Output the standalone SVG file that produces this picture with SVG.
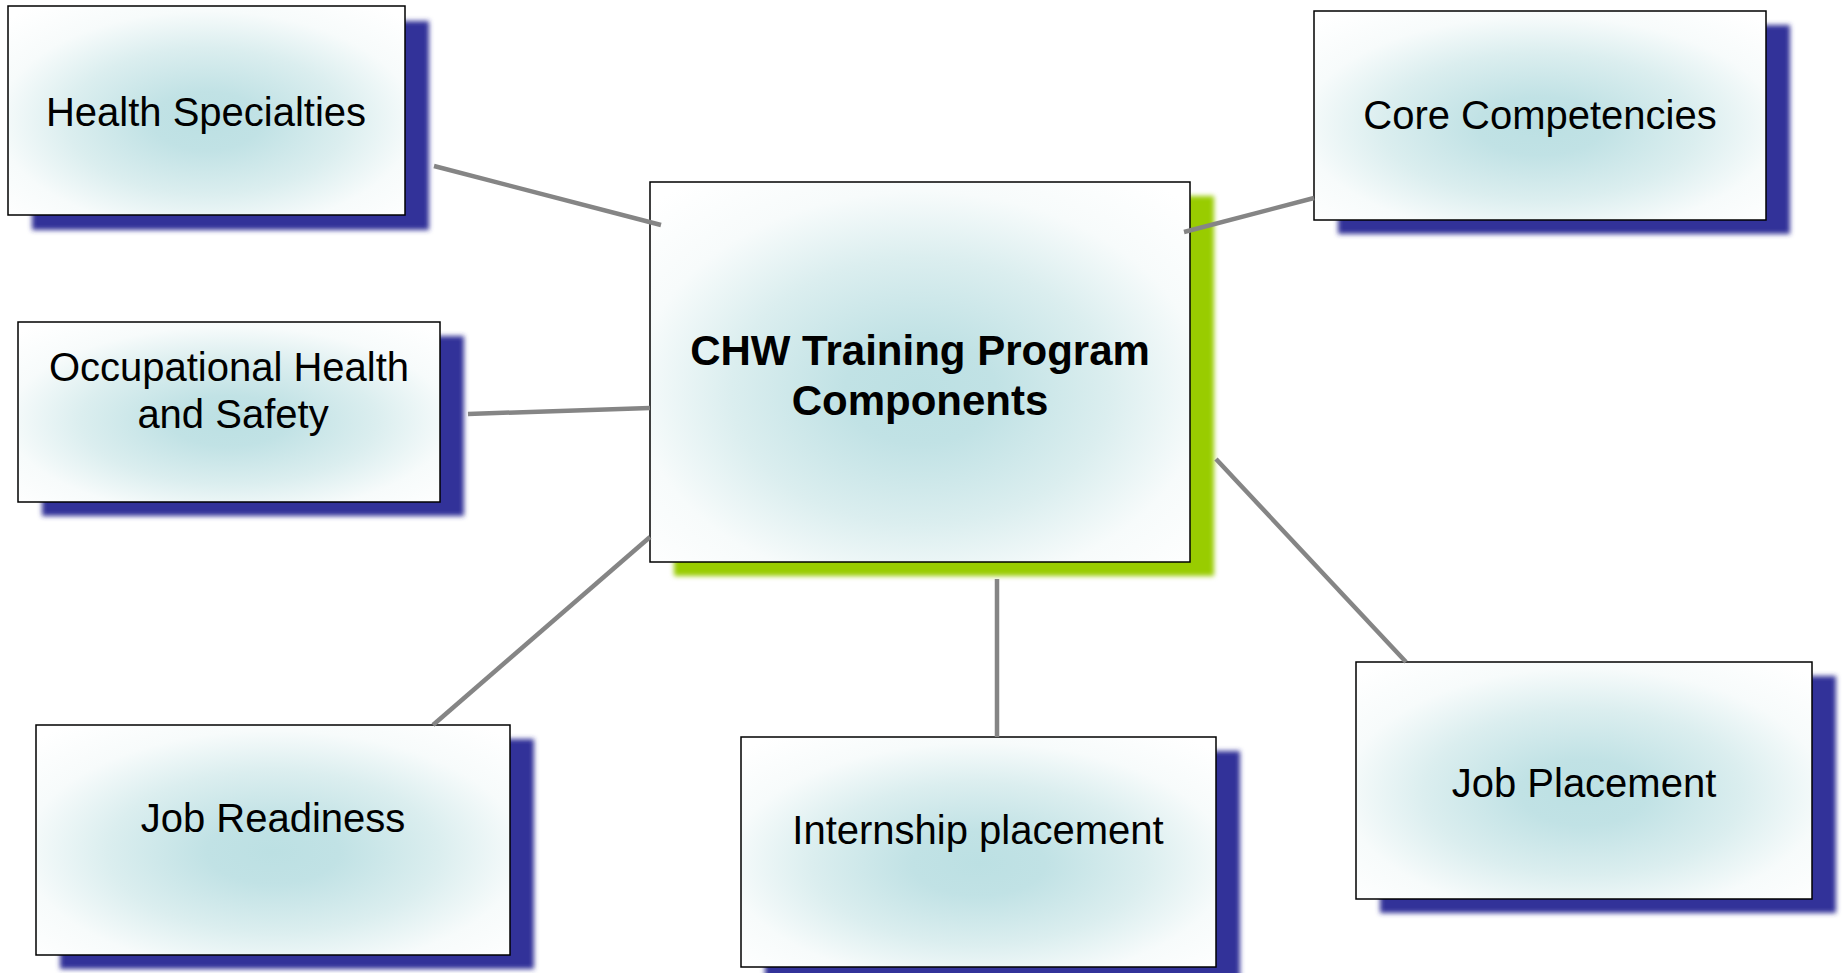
<svg xmlns="http://www.w3.org/2000/svg" width="1845" height="973" viewBox="0 0 1845 973">
<defs>
<radialGradient id="glow" cx="0.5" cy="0.55" r="0.7" fx="0.5" fy="0.55">
<stop offset="0" stop-color="#bce0e3"/>
<stop offset="0.2" stop-color="#c1e2e5"/>
<stop offset="0.5" stop-color="#dbeeef"/>
<stop offset="0.75" stop-color="#f7fbfb"/>
<stop offset="1" stop-color="#ffffff"/>
</radialGradient>
<filter id="blur" x="-10%" y="-10%" width="120%" height="120%">
<feGaussianBlur stdDeviation="2.5"/>
</filter>
<style>
.shadow{fill:#333399;filter:url(#blur)}
.gshadow{fill:#99cc00;filter:url(#blur)}
.box{fill:url(#glow);stroke:#000;stroke-width:1.5}
.lbl{font-family:"Liberation Sans",Arial,sans-serif;font-size:40px;fill:#000;text-anchor:middle}
.title{font-family:"Liberation Sans",Arial,sans-serif;font-size:42px;font-weight:bold;fill:#000;text-anchor:middle}
.conn{stroke:#858585;stroke-width:4.5;fill:none}
</style>
</defs>
<rect width="1845" height="973" fill="#ffffff"/>
<g id="center">
<rect class="gshadow" x="674" y="196" width="540" height="380"/>
<rect class="box" x="650" y="182" width="540" height="380"/>
<text class="title" x="920" y="365">CHW Training Program</text>
<text class="title" x="920" y="415">Components</text>
</g>
<g id="health-specialties">
<rect class="shadow" x="32" y="21" width="397" height="209"/>
<rect class="box" x="8" y="6" width="397" height="209"/>
<text class="lbl" x="206" y="126">Health Specialties</text>
</g>
<g id="core-competencies">
<rect class="shadow" x="1338" y="25" width="452" height="209"/>
<rect class="box" x="1314" y="11" width="452" height="209"/>
<text class="lbl" x="1540" y="129">Core Competencies</text>
</g>
<g id="occupational-health">
<rect class="shadow" x="42" y="336" width="422" height="180"/>
<rect class="box" x="18" y="322" width="422" height="180"/>
<text class="lbl" x="229" y="381">Occupational Health</text>
<text class="lbl" x="233" y="428">and Safety</text>
</g>
<g id="job-readiness">
<rect class="shadow" x="60" y="739" width="474" height="230"/>
<rect class="box" x="36" y="725" width="474" height="230"/>
<text class="lbl" x="273" y="832">Job Readiness</text>
</g>
<g id="internship-placement">
<rect class="shadow" x="765" y="751" width="475" height="230"/>
<rect class="box" x="741" y="737" width="475" height="230"/>
<text class="lbl" x="978" y="844">Internship placement</text>
</g>
<g id="job-placement">
<rect class="shadow" x="1380" y="676" width="456" height="237"/>
<rect class="box" x="1356" y="662" width="456" height="237"/>
<text class="lbl" x="1584" y="797">Job Placement</text>
</g>
<g id="connectors">
<line class="conn" x1="434" y1="166" x2="661" y2="225"/>
<line class="conn" x1="1184" y1="232" x2="1314" y2="198"/>
<line class="conn" x1="468" y1="414" x2="650" y2="408"/>
<line class="conn" x1="433" y1="725" x2="650" y2="537"/>
<line class="conn" x1="997" y1="579" x2="997" y2="737"/>
<line class="conn" x1="1216" y1="459" x2="1406" y2="662"/>
</g>
</svg>
